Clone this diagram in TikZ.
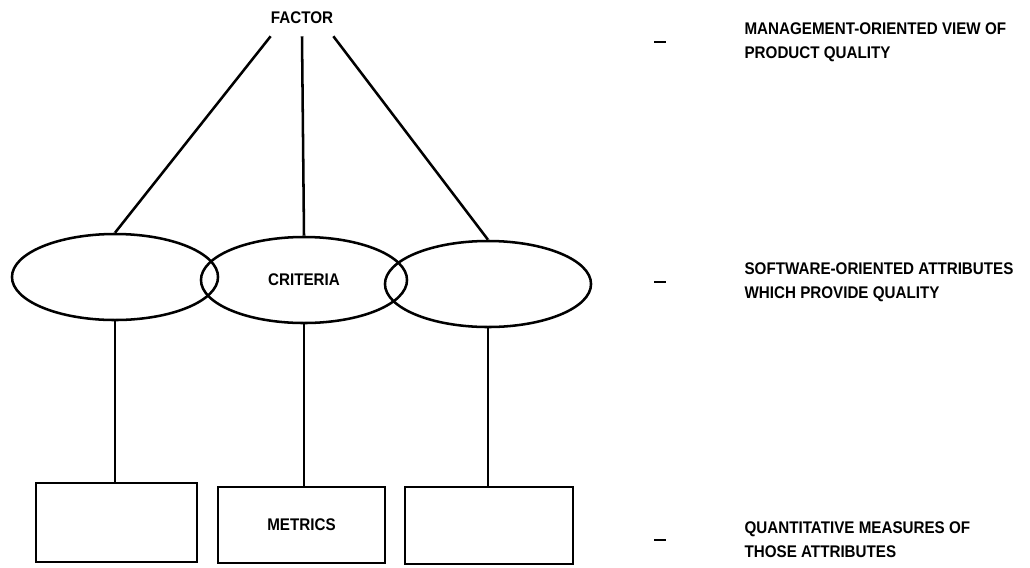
\documentclass[tikz,border=0pt]{standalone}
\usepackage{fontspec}
\setmainfont{Liberation Sans}[FakeStretch=0.9]
\usetikzlibrary{shapes.geometric,positioning}

\begin{document}
\begin{tikzpicture}[
    x=0.025cm, y=-0.025cm,
    font=\fontsize{12}{17}\selectfont\bfseries,
    crit/.style={ellipse, draw, line width=1.8pt, minimum width=5.15cm, minimum height=2.15cm, inner sep=0pt},
    metric/.style={rectangle, draw, line width=1.8pt, inner sep=0pt},
    tick/.style={inner sep=0pt},
    note/.style={align=left, inner sep=0pt},
    link/.style={line width=1.8pt}
]
\useasboundingbox (0,0) rectangle (1030,567);

% Factor at the top
\node[inner xsep=0pt, inner ysep=0.3cm] (factor) at (302,18) {FACTOR};

% Criteria
\node[crit] (critL) at (115,277) {};
\node[crit] (critM) at (304,280) {CRITERIA};
\node[crit] (critR) at (488,284) {};

% Metrics
\node[metric, minimum width=4.025cm, minimum height=1.975cm] (boxL) at (116.5,522.5) {};
\node[metric, minimum width=4.175cm, minimum height=1.9cm] (boxM) at (301.5,525) {METRICS};
\node[metric, minimum width=4.2cm, minimum height=1.925cm] (boxR) at (489,525.5) {};

% Links
\draw[link] (factor.south west) -- (critL.north);
\draw[link] (factor.south) -- (critM.north);
\draw[link] (factor.south east) -- (critR.north);
\draw[link] (critL.south) -- (critL.south |- boxL.north);
\draw[link] (critM.south) -- (critM.south |- boxM.north);
\draw[link] (critR.south) -- (critR.south |- boxR.north);

% Explanations
\node[tick] (tickA) at (660,42) {\rule{0.3cm}{0.07cm}};
\node[note, right=1.95cm of tickA] (noteA) {MANAGEMENT-ORIENTED VIEW OF\\PRODUCT QUALITY};
\node[tick] (tickB) at (660,282) {\rule{0.3cm}{0.07cm}};
\node[note, right=1.95cm of tickB] (noteB) {SOFTWARE-ORIENTED ATTRIBUTES\\WHICH PROVIDE QUALITY};
\node[tick] (tickC) at (660,540) {\rule{0.3cm}{0.07cm}};
\node[note, right=1.95cm of tickC] (noteC) {QUANTITATIVE MEASURES OF\\THOSE ATTRIBUTES};

\end{tikzpicture}
\end{document}
